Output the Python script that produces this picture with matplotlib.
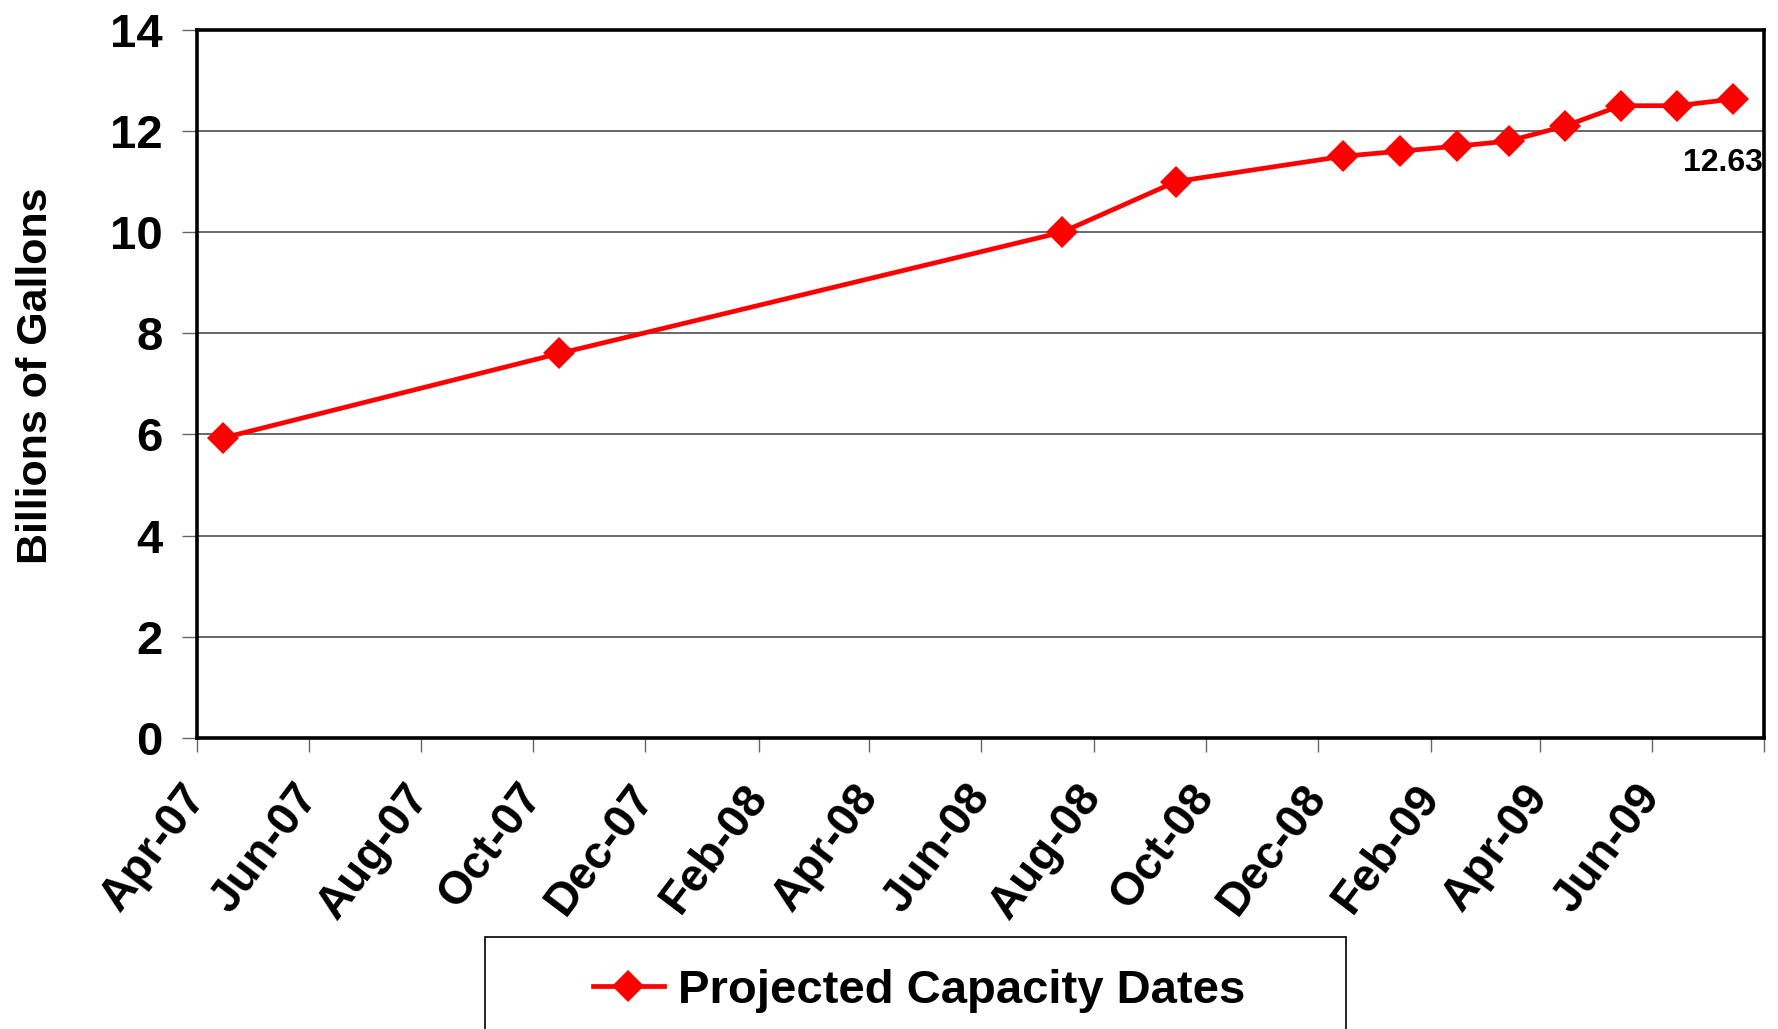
import datetime as dt
import matplotlib
matplotlib.use('Agg')
import matplotlib.pyplot as plt
from matplotlib.patches import Rectangle

plt.rcParams['font.family'] = ['Liberation Sans', 'DejaVu Sans']
plt.rcParams['font.weight'] = 'bold'

# Data (mid-month points)
months = ['2007-04', '2007-10', '2008-07', '2008-09', '2008-12', '2009-01',
          '2009-02', '2009-03', '2009-04', '2009-05', '2009-06', '2009-07']
capacity = [5.93, 7.6, 10.0, 11.0, 11.5, 11.6, 11.7, 11.8, 12.1, 12.5, 12.5, 12.63]
series_name = 'Projected Capacity Dates'
y_label = 'Billions of Gallons'
last_label = '12.63'

dates = [dt.datetime.strptime(m + '-15', '%Y-%m-%d') for m in months]

fig = plt.figure(figsize=(17.78, 10.29), dpi=100)
ax = fig.add_axes([0.111, 0.283, 0.881, 0.688])

ax.plot(dates, capacity, color='#ff0000', lw=3.4, marker='D', ms=16,
        markeredgewidth=0, zorder=3, clip_on=False, label=series_name)

ax.set_xlim(dt.datetime(2007, 4, 1), dt.datetime(2009, 8, 1))
ax.set_ylim(0, 14)
ax.set_yticks(range(0, 15, 2))
# a tick every two months, the last one (Aug-09) has no label
ticks = [dt.datetime(2007 + (3 + 2 * i) // 12, (3 + 2 * i) % 12 + 1, 1) for i in range(15)]
ax.set_xticks(ticks)
labels = [t.strftime('%b-%y') for t in ticks]
labels[-1] = ''
ax.set_xticklabels(labels)

ax.grid(axis='y', color='0.25', lw=1.1)
ax.set_axisbelow(True)
for s in ax.spines.values():
    s.set_linewidth(2.6)
    s.set_color('black')

ax.tick_params(axis='y', labelsize=34, length=11, width=1, color='0.4', pad=14)
ax.tick_params(axis='x', labelsize=33, length=10, width=1, color='0.4', pad=27)
for lbl in ax.get_xticklabels():
    lbl.set_rotation(53)
    lbl.set_rotation_mode('anchor')
    lbl.set_ha('right')
    lbl.set_va('center')
    lbl.set_fontweight('bold')
for lbl in ax.get_yticklabels():
    lbl.set_fontweight('bold')

ax.annotate(last_label, (dates[-1], capacity[-1]), xytext=(22, -46),
            textcoords='offset points', ha='right', va='center',
            fontsize=23, fontweight='bold')

fig.text(0.02, 0.452, y_label, rotation=90, ha='center', va='bottom',
         fontsize=31, fontweight='bold')

# legend box, cut off at the bottom like the original
fig.patches.append(Rectangle((0.273, -0.1), 0.484, 0.1893, transform=fig.transFigure,
                             facecolor='white', edgecolor='black', lw=1.2))
handles, lbls = ax.get_legend_handles_labels()
fig.legend(handles, lbls, loc='center', bbox_to_anchor=(0.517, 0.037),
           frameon=False, handlelength=1.5, handletextpad=0.3,
           prop={'weight': 'bold', 'size': 34})

fig.savefig('out.png', dpi=100)
